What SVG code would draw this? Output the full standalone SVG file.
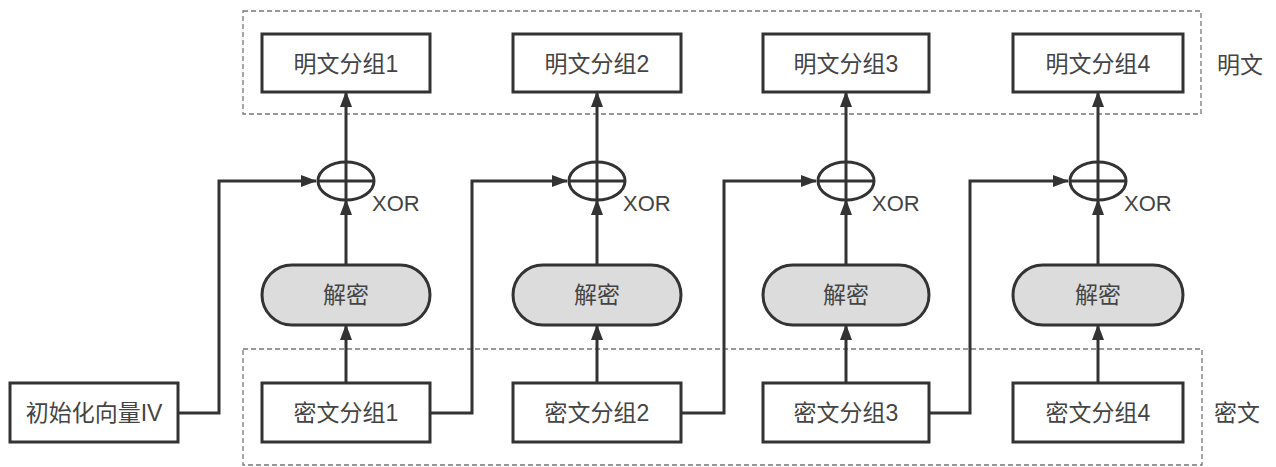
<svg xmlns="http://www.w3.org/2000/svg" width="1276" height="467" viewBox="0 0 1276 467">
<style>
.box{fill:#fff;stroke:#333;stroke-width:3}
.pill{fill:#dcdcdc;stroke:#333;stroke-width:3}
.grp{fill:none;stroke:#777;stroke-width:1.3;stroke-dasharray:5 3}
.xor{fill:#fff;stroke:#333;stroke-width:3}
.ln{fill:none;stroke:#333;stroke-width:3}
.t{font-family:"Liberation Sans","Noto Sans CJK SC",sans-serif;font-size:23px;fill:#444;text-anchor:middle;dominant-baseline:central}
.x{font-family:"Liberation Sans",sans-serif;font-size:22px;fill:#444}
</style>
<defs>
<marker id="ah" markerUnits="userSpaceOnUse" markerWidth="16" markerHeight="12" refX="15" refY="6" orient="auto">
<path d="M0,0 L16,6 L0,12 Z" fill="#333"/>
</marker>
</defs>
<g id="groups">
<rect class="grp" x="243" y="11" width="958" height="103"/>
<rect class="grp" x="243" y="349" width="959" height="116"/>
</g>
<g id="connectors">
<path class="ln" d="M178,413 H219 V181 H316" marker-end="url(#ah)"/>
<path class="ln" d="M430,413 H472 V181 H567" marker-end="url(#ah)"/>
<path class="ln" d="M929,413 H970 V181 H1068" marker-end="url(#ah)"/>
<path class="ln" d="M681,413 H724 V181 H816" marker-end="url(#ah)"/>
<path class="ln" d="M346,383 V325" marker-end="url(#ah)"/>
<path class="ln" d="M597,383 V325" marker-end="url(#ah)"/>
<path class="ln" d="M846,383 V325" marker-end="url(#ah)"/>
<path class="ln" d="M1098,383 V325" marker-end="url(#ah)"/>
<path class="ln" d="M346,265 V200" marker-end="url(#ah)"/>
<path class="ln" d="M597,265 V200" marker-end="url(#ah)"/>
<path class="ln" d="M846,265 V200" marker-end="url(#ah)"/>
<path class="ln" d="M1098,265 V200" marker-end="url(#ah)"/>
<path class="ln" d="M346,162 V92" marker-end="url(#ah)"/>
<path class="ln" d="M597,162 V92" marker-end="url(#ah)"/>
<path class="ln" d="M846,162 V92" marker-end="url(#ah)"/>
<path class="ln" d="M1098,162 V92" marker-end="url(#ah)"/>
</g>
<g id="p1"><rect class="box" x="262" y="34" width="168" height="58"/><text class="t" x="346" y="64">明文分组1</text></g>
<g id="p2"><rect class="box" x="513" y="34" width="168" height="58"/><text class="t" x="597" y="64">明文分组2</text></g>
<g id="p3"><rect class="box" x="763" y="34" width="166" height="58"/><text class="t" x="846" y="64">明文分组3</text></g>
<g id="p4"><rect class="box" x="1013" y="34" width="170" height="58"/><text class="t" x="1098" y="64">明文分组4</text></g>
<g id="x1"><ellipse class="xor" cx="346" cy="181" rx="28" ry="19"/><path class="ln" d="M318,181 H374 M346,162 V200"/><text class="x" x="372" y="211">XOR</text></g>
<g id="x2"><ellipse class="xor" cx="597" cy="181" rx="28" ry="19"/><path class="ln" d="M569,181 H625 M597,162 V200"/><text class="x" x="623" y="211">XOR</text></g>
<g id="x3"><ellipse class="xor" cx="846" cy="181" rx="28" ry="19"/><path class="ln" d="M818,181 H874 M846,162 V200"/><text class="x" x="872" y="211">XOR</text></g>
<g id="x4"><ellipse class="xor" cx="1098" cy="181" rx="28" ry="19"/><path class="ln" d="M1070,181 H1126 M1098,162 V200"/><text class="x" x="1124" y="211">XOR</text></g>
<g id="d1"><rect class="pill" x="262" y="265" width="168" height="60" rx="30"/><text class="t" x="346" y="295">解密</text></g>
<g id="d2"><rect class="pill" x="513" y="265" width="168" height="60" rx="30"/><text class="t" x="597" y="295">解密</text></g>
<g id="d3"><rect class="pill" x="763" y="265" width="166" height="60" rx="30"/><text class="t" x="846" y="295">解密</text></g>
<g id="d4"><rect class="pill" x="1013" y="265" width="170" height="60" rx="30"/><text class="t" x="1098" y="295">解密</text></g>
<g id="iv"><rect class="box" x="10" y="383" width="168" height="59"/><text class="t" x="94" y="413">初始化向量IV</text></g>
<g id="c1"><rect class="box" x="262" y="383" width="168" height="59"/><text class="t" x="346" y="413">密文分组1</text></g>
<g id="c2"><rect class="box" x="513" y="383" width="168" height="59"/><text class="t" x="597" y="413">密文分组2</text></g>
<g id="c3"><rect class="box" x="763" y="383" width="166" height="59"/><text class="t" x="846" y="413">密文分组3</text></g>
<g id="c4"><rect class="box" x="1013" y="383" width="170" height="59"/><text class="t" x="1098" y="413">密文分组4</text></g>
<g id="labels">
<text class="t" x="1240" y="65">明文</text>
<text class="t" x="1237" y="413">密文</text>
</g>
</svg>
